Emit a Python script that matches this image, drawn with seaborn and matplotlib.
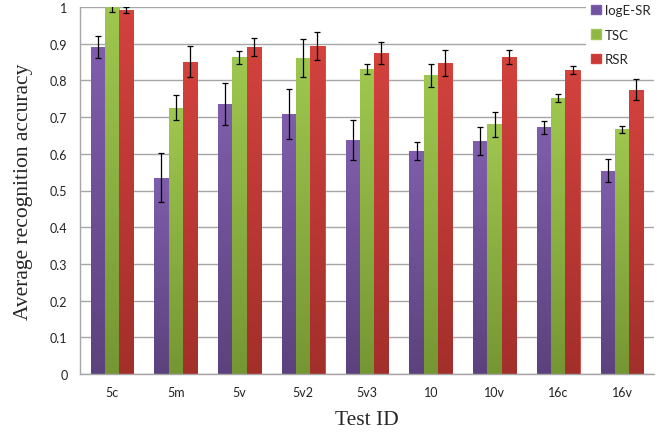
import numpy as np
import pandas as pd
import matplotlib
matplotlib.use("Agg")
import matplotlib.pyplot as plt
import seaborn as sns
from matplotlib.colors import LinearSegmentedColormap
from matplotlib.patches import Patch

tests = ["5c", "5m", "5v", "5v2", "5v3", "10", "10v", "16c", "16v"]
methods = ["logE-SR", "TSC", "RSR"]
loge_sr = [0.891, 0.535, 0.735, 0.708, 0.637, 0.607, 0.634, 0.672, 0.554]
loge_sr_err = [0.030, 0.066, 0.057, 0.068, 0.054, 0.024, 0.038, 0.018, 0.032]
tsc = [1.000, 0.726, 0.863, 0.862, 0.831, 0.814, 0.680, 0.752, 0.667]
tsc_err = [0.013, 0.035, 0.018, 0.052, 0.013, 0.032, 0.035, 0.012, 0.010]
rsr = [0.993, 0.851, 0.891, 0.894, 0.874, 0.848, 0.864, 0.828, 0.775]
rsr_err = [0.008, 0.042, 0.024, 0.038, 0.030, 0.035, 0.018, 0.010, 0.028]
yticks = [0, 0.1, 0.2, 0.3, 0.4, 0.5, 0.6, 0.7, 0.8, 0.9, 1]
ytick_labels = ["0", "0.1", "0.2", "0.3", "0.4", "0.5", "0.6", "0.7", "0.8", "0.9", "1"]

top_colors = {"logE-SR": "#7f5dac", "TSC": "#9ec74f", "RSR": "#d3423d"}
bot_colors = {"logE-SR": "#5c427d", "TSC": "#759733", "RSR": "#a32f2b"}
mid_colors = {"logE-SR": "#7052a0", "TSC": "#8fb744", "RSR": "#c83a36"}

vals = {"logE-SR": loge_sr, "TSC": tsc, "RSR": rsr}
errs = {"logE-SR": loge_sr_err, "TSC": tsc_err, "RSR": rsr_err}
rows = []
for m in methods:
    for t, v, e in zip(tests, vals[m], errs[m]):
        rows.append({"test": t, "method": m, "acc": v, "err": e})
df = pd.DataFrame(rows)

sns.set_style("white")
fig = plt.figure(figsize=(6.58, 4.35), dpi=100)
ax = fig.add_axes([80/658, 60/435, 574/658, 367/435])

sns.barplot(data=df, x="test", y="acc", hue="method", order=tests,
            hue_order=methods, palette=mid_colors, width=0.67, errorbar=None,
            ax=ax, legend=False, saturation=1)

# gradient fill and error bars
bars = ax.patches
k = 0
for m in methods:
    cmap = LinearSegmentedColormap.from_list(m, [bot_colors[m], top_colors[m]])
    for i, t in enumerate(tests):
        p = bars[k]
        k += 1
        x0 = p.get_x(); w = p.get_width(); h = p.get_height()
        p.set_edgecolor(top_colors[m]); p.set_linewidth(0.6)
        grad = np.linspace(0, 1, 100).reshape(-1, 1)
        im = ax.imshow(grad, extent=[x0, x0 + w, 0, h], origin="lower",
                       cmap=cmap, aspect="auto", zorder=2)
        im.set_clip_path(p)
        ax.errorbar(x0 + w / 2, h, yerr=errs[m][i], fmt="none", ecolor="black",
                    elinewidth=0.9, capsize=2.5, capthick=0.9, zorder=4)

ax.set_xlim(-0.5, len(tests) - 0.5)
ax.set_ylim(0, 1)
ax.set_yticks(yticks)
ax.set_yticklabels(ytick_labels)
ax.set_axisbelow(True)
ax.yaxis.grid(True, color="#a6a6a6", linewidth=1.0)
ax.xaxis.grid(False)
for s in ["top", "right"]:
    ax.spines[s].set_visible(False)
for s in ["left", "bottom"]:
    ax.spines[s].set_color("#a6a6a6")
    ax.spines[s].set_linewidth(1.0)

ax.set_xticks(np.arange(len(tests)))
ax.set_xticklabels(tests)
ax.set_xticks(np.arange(len(tests) + 1) - 0.5, minor=True)
ax.tick_params(axis="x", which="major", length=0, pad=9)
ax.tick_params(axis="x", which="minor", length=4, color="#a6a6a6", direction="out")
ax.tick_params(axis="y", length=4, color="#a6a6a6", direction="out", pad=5)
for lab in ax.get_xticklabels() + ax.get_yticklabels():
    lab.set_fontfamily("Lato")
    lab.set_fontsize(9)
    lab.set_color("#222222")

ax.set_xlabel("Test ID", fontfamily="Liberation Serif", fontsize=15.5, labelpad=8)
ax.set_ylabel("Average recognition accuracy", fontfamily="Liberation Serif",
              fontsize=15.5, labelpad=12)

handles = [Patch(facecolor=mid_colors[m], edgecolor=top_colors[m]) for m in methods]
leg = ax.legend(handles, methods, loc="upper right", bbox_to_anchor=(1.015, 1.04),
                frameon=True, framealpha=1, facecolor="white", edgecolor="none",
                handlelength=0.75, handleheight=0.75, handletextpad=0.3,
                labelspacing=0.95, borderpad=0.4, prop={"family": "Lato", "size": 9.5})
leg.set_zorder(10)

fig.savefig("out.png", dpi=100)
